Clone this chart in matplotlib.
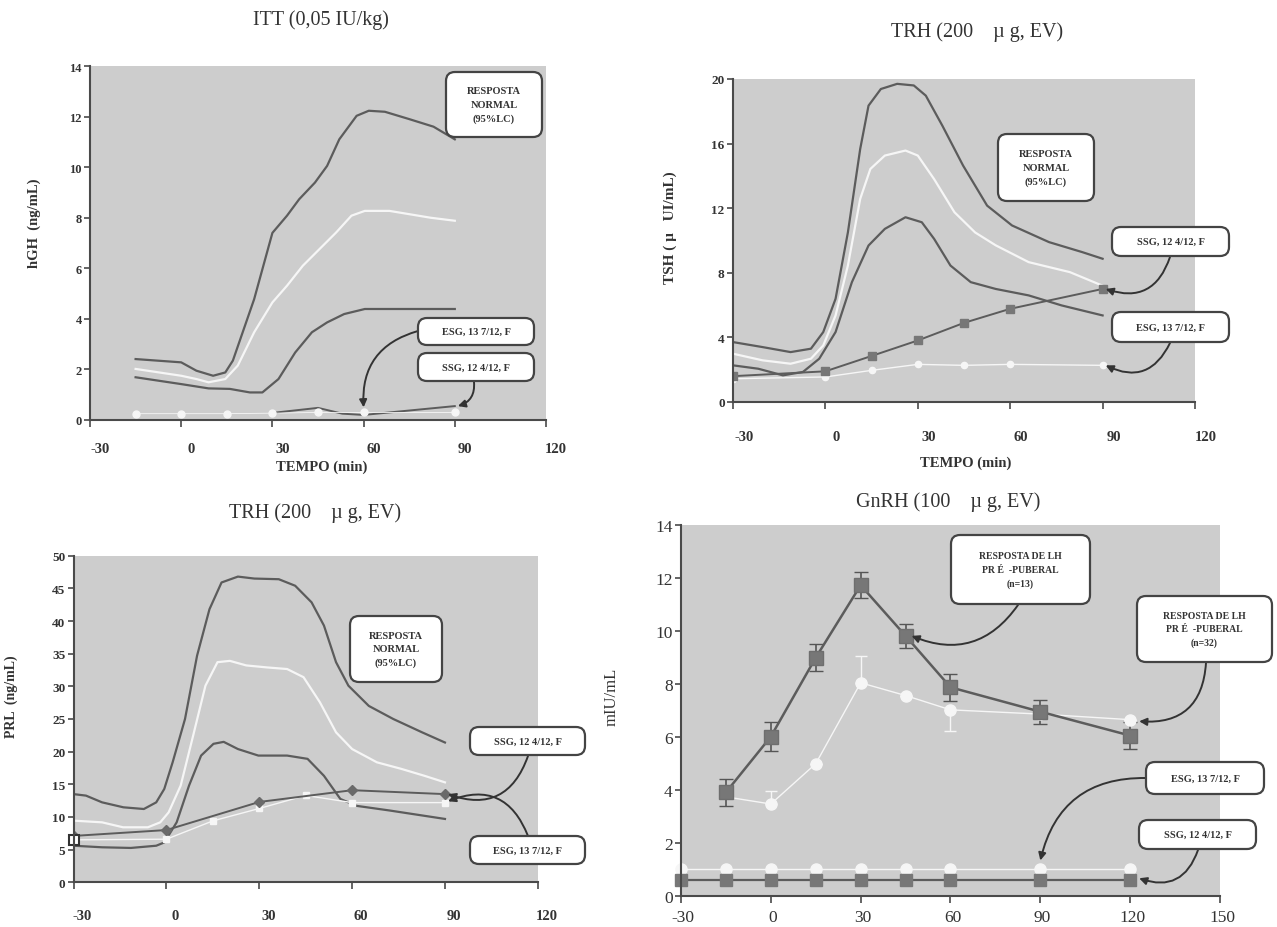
import matplotlib
matplotlib.use("Agg")
import matplotlib.pyplot as plt
from matplotlib.patches import FancyBboxPatch
from matplotlib.transforms import ScaledTranslation

plt.rcParams['font.family'] = ['Liberation Serif', 'DejaVu Serif']

W, H = 1277, 928
BG = '#cdcdcd'
DARK = '#5c5c5c'
WHITE = '#f6f6f6'
INK = '#333333'

# ---- ITT / hGH ----
p1_t_hi = [-15, 0, 5, 10.5, 14.5, 17, 24, 30, 34.8, 38.8, 44, 48, 52, 57.7, 61.7, 67, 75, 83, 90]
p1_hi = [2.41, 2.28, 1.95, 1.75, 1.88, 2.35, 4.78, 7.4, 8.08, 8.73, 9.39, 10.05, 11.1, 12.03, 12.23, 12.19, 11.9, 11.6, 11.1]
p1_t_mid = [-15, 0, 5, 9, 14.5, 18.6, 24, 30, 34.8, 40, 45.5, 51, 56, 60.4, 68.5, 75, 82, 90]
p1_mid = [2.02, 1.75, 1.62, 1.49, 1.62, 2.15, 3.47, 4.65, 5.31, 6.1, 6.76, 7.42, 8.08, 8.27, 8.27, 8.14, 8.0, 7.88]
p1_t_lo = [-15, 0, 9, 16, 22.6, 26.7, 32, 37.5, 43, 48, 53.6, 60.4, 75, 90]
p1_lo = [1.69, 1.42, 1.25, 1.23, 1.09, 1.09, 1.62, 2.67, 3.47, 3.86, 4.19, 4.39, 4.39, 4.39]
p1_t_esg = [-15, 0, 15, 30, 45, 60, 90]
p1_esg = [0.25, 0.25, 0.25, 0.27, 0.3, 0.3, 0.3]
p1_t_ssg = [30, 45, 53, 60, 90]
p1_ssg = [0.28, 0.48, 0.25, 0.2, 0.55]

# ---- TRH / TSH ----
p2_t_hi = [-30, -20.4, -11.3, -4.7, -0.7, 3.3, 7.3, 11.3, 14, 18, 23.3, 28.7, 32.6, 38, 44.7, 52.5, 60.6, 72.6, 83.4, 90]
p2_hi = [3.71, 3.40, 3.09, 3.3, 4.33, 6.39, 10.5, 15.67, 18.35, 19.38, 19.7, 19.6, 18.97, 17.1, 14.64, 12.16, 10.93, 9.9, 9.28, 8.87]
p2_t_mid = [-30, -20.4, -11.3, -4.7, -0.7, 3.3, 7.3, 11.3, 14.6, 19.3, 26, 30, 35.3, 41.9, 48.6, 55.3, 66, 79.4, 90]
p2_mid = [2.99, 2.58, 2.37, 2.68, 3.5, 5.36, 8.45, 12.58, 14.43, 15.26, 15.57, 15.26, 13.8, 11.75, 10.5, 9.7, 8.66, 8.04, 7.2]
p2_t_lo = [-30, -21.8, -13.8, -7.3, -2, 3.3, 8.6, 14, 19.3, 26, 31.3, 35.3, 40.6, 47.2, 55.3, 66, 76.7, 90]
p2_lo = [2.27, 2.06, 1.65, 1.86, 2.68, 4.33, 7.42, 9.69, 10.72, 11.44, 11.13, 10.1, 8.45, 7.42, 7.0, 6.6, 5.98, 5.36]
p2_t_pat = [-30, 0, 15, 30, 45, 60, 90]
p2_ssg = [1.6, 1.9, 2.85, 3.81, 4.9, 5.77, 7.0]
p2_esg = [1.44, 1.55, 1.96, 2.33, 2.27, 2.33, 2.27]

# ---- TRH / PRL ----
p3_t_hi = [-30, -26, -20.8, -13.9, -7.3, -3.3, -0.7, 2, 6, 9.9, 13.9, 17.8, 23.1, 28.4, 36.3, 41.6, 46.9, 50.9, 54.8, 58.8, 65.4, 73.3, 82.6, 90]
p3_hi = [13.5, 13.27, 12.24, 11.48, 11.22, 12.24, 14.29, 18.37, 25, 34.7, 41.8, 45.9, 46.8, 46.5, 46.4, 45.4, 42.86, 39.3, 33.7, 30.1, 27.0, 25, 22.96, 21.4]
p3_t_mid = [-30, -20.8, -14, -6, -2, 0.7, 4.6, 8.6, 12.6, 16.5, 20.5, 25.8, 32.4, 39, 44.3, 49.6, 54.8, 60, 68, 76, 83.4, 90]
p3_mid = [9.44, 9.18, 8.42, 8.42, 9.18, 10.7, 14.8, 22.4, 30.1, 33.7, 33.9, 33.2, 32.9, 32.65, 31.4, 27.55, 22.96, 20.4, 18.37, 17.35, 16.3, 15.3]
p3_t_lo = [-30, -20.8, -11.5, -3.3, -0.7, 3.3, 7.3, 11.2, 15.2, 18.5, 23.1, 29.7, 39, 45.6, 50.9, 56.2, 61.5, 72, 90]
p3_lo = [5.6, 5.36, 5.26, 5.6, 6.1, 9.18, 14.8, 19.4, 21.2, 21.5, 20.4, 19.4, 19.4, 18.9, 16.3, 12.76, 11.7, 11.0, 9.7]
p3_t_ssg = [-30, 0, 30, 60, 90]
p3_ssg = [7.1, 8.0, 12.3, 14.1, 13.5]
p3_t_esg = [-30, 0, 15, 30, 45, 60, 90]
p3_esg = [6.5, 6.6, 9.4, 11.3, 13.3, 12.2, 12.2]

# ---- GnRH / LH ----
p4_t = [-15, 0, 15, 30, 45, 60, 90, 120]
p4_n13 = [3.92, 6.02, 9.0, 11.73, 9.82, 7.88, 6.96, 6.06]
p4_n13_err = [0.5, 0.55, 0.5, 0.5, 0.45, 0.5, 0.45, 0.5]
p4_n32 = [3.75, 3.48, 5.0, 8.05, 7.57, 7.03, 6.87, 6.66]
p4_n32_up = [0, 0.5, 0, 1.0, 0, 0, 0, 0]
p4_n32_dn = [0, 0, 0, 0, 0, 0.8, 0, 0]
p4_t_pat = [-30, -15, 0, 15, 30, 45, 60, 90, 120]
p4_esg = [1.03, 1.03, 1.03, 1.03, 1.03, 1.03, 1.03, 1.03, 1.03]
p4_ssg = [0.62, 0.62, 0.62, 0.62, 0.62, 0.62, 0.62, 0.62, 0.62]

fig = plt.figure(figsize=(W / 100, H / 100), dpi=100)
fig.patch.set_facecolor('white')


def px_axes(l, t, r, b):
    return fig.add_axes([l / W, 1 - b / H, (r - l) / W, (b - t) / H])


def style(ax, xt, yt, xlim, ylim, bold, xs, ys, xpad, dx):
    ax.set_facecolor(BG)
    for s in ['top', 'right']:
        ax.spines[s].set_visible(False)
    for s in ['left', 'bottom']:
        ax.spines[s].set_color('#4a4a4a')
        ax.spines[s].set_linewidth(1.5)
    ax.set_xlim(*xlim)
    ax.set_ylim(*ylim)
    ax.set_xticks(xt)
    ax.set_yticks(yt)
    w = 'bold' if bold else 'normal'
    ax.set_xticklabels([str(v) for v in xt], fontsize=xs, fontweight=w, color=INK)
    ax.set_yticklabels([str(v) for v in yt], fontsize=ys, fontweight=w, color=INK)
    ax.tick_params(axis='x', length=5, width=1.2, color='#4a4a4a', pad=xpad)
    ax.tick_params(axis='y', length=4, width=1.2, color='#4a4a4a', pad=2)
    off = ScaledTranslation(dx / 100, 0, fig.dpi_scale_trans)
    for lab in ax.get_xticklabels():
        lab.set_transform(lab.get_transform() + off)


def box(x0, y0, x1, y1, text, size=7.5):
    p = FancyBboxPatch((x0 / 100, (H - y1) / 100), (x1 - x0) / 100, (y1 - y0) / 100,
                       boxstyle='round,pad=0,rounding_size=0.09',
                       transform=fig.dpi_scale_trans, fc='white', ec='#444444', lw=1.6, zorder=5)
    fig.add_artist(p)
    fig.text((x0 + x1) / 200, (H - (y0 + y1) / 2) / 100, text, transform=fig.dpi_scale_trans,
             ha='center', va='center', fontsize=size, fontweight='bold', color=INK,
             linespacing=1.6, zorder=6)


def arrow(ax, sx, sy, x, y, rad):
    ax.annotate('', xy=(x, y), xycoords='data', xytext=(sx / 100, (H - sy) / 100),
                textcoords=fig.dpi_scale_trans, annotation_clip=False,
                arrowprops=dict(arrowstyle='-|>', color='#333333', lw=1.4,
                                connectionstyle='arc3,rad=%s' % rad,
                                shrinkA=0, shrinkB=0, mutation_scale=11))


# panel 1
ax1 = px_axes(90, 67, 546, 421)
style(ax1, [-30, 0, 30, 60, 90, 120], list(range(0, 15, 2)), (-30, 120), (0, 14), True, 10.5, 9, 11, 10)
ax1.plot(p1_t_hi, p1_hi, color=DARK, lw=1.6)
ax1.plot(p1_t_mid, p1_mid, color=WHITE, lw=1.6)
ax1.plot(p1_t_lo, p1_lo, color=DARK, lw=1.6)
ax1.plot(p1_t_ssg, p1_ssg, color=DARK, lw=1.4)
ax1.plot(p1_t_esg, p1_esg, color=WHITE, lw=0.6, marker='o', ms=5, mec=WHITE, mfc=WHITE)
ax1.set_ylabel('hGH  (ng/mL)', fontsize=10.5, fontweight='bold', color=INK)
ax1.yaxis.set_label_coords(-0.108, 0.559)
fig.text(321 / W, 1 - 20 / H, 'ITT (0,05 IU/kg)', ha='center', va='center', fontsize=14.5, color=INK)
fig.text(322 / W, 1 - 467 / H, 'TEMPO (min)', ha='center', va='center', fontsize=10.5, fontweight='bold', color=INK)
box(446, 73, 542, 138, 'RESPOSTA\nNORMAL\n(95%LC)')
box(418, 319, 534, 346, 'ESG, 13 7/12, F')
box(418, 354, 534, 382, 'SSG, 12 4/12, F')
arrow(ax1, 418, 332, 60, 0.5, 0.4)
arrow(ax1, 474, 383, 91, 0.55, -0.4)

# panel 2
ax2 = px_axes(733, 80, 1195, 403)
style(ax2, [-30, 0, 30, 60, 90, 120], list(range(0, 21, 4)), (-30, 120), (0, 20), True, 10.5, 9.5, 15, 11)
ax2.plot(p2_t_hi, p2_hi, color=DARK, lw=1.6)
ax2.plot(p2_t_mid, p2_mid, color=WHITE, lw=1.6)
ax2.plot(p2_t_lo, p2_lo, color=DARK, lw=1.6)
ax2.plot(p2_t_pat, p2_esg, color=WHITE, lw=1.0, marker='o', ms=4.5, mec=WHITE, mfc=WHITE)
ax2.plot(p2_t_pat, p2_ssg, color=DARK, lw=1.4, marker='s', ms=5.5, mec='#777777', mfc='#777777')
ax2.set_ylabel('TSH ( \u00b5   UI/mL)', fontsize=11, fontweight='bold', color=INK)
ax2.yaxis.set_label_coords(-0.122, 0.542)
fig.text(977 / W, 1 - 32 / H, 'TRH (200    \u00b5 g, EV)', ha='center', va='center', fontsize=14.5, color=INK)
fig.text(966 / W, 1 - 463 / H, 'TEMPO (min)', ha='center', va='center', fontsize=10.5, fontweight='bold', color=INK)
box(998, 135, 1094, 202, 'RESPOSTA\nNORMAL\n(95%LC)')
box(1112, 228, 1229, 257, 'SSG, 12 4/12, F')
box(1112, 313, 1229, 343, 'ESG, 13 7/12, F')
arrow(ax2, 1170, 258, 91, 7.0, -0.5)
arrow(ax2, 1170, 344, 91, 2.27, -0.5)

# panel 3
ax3 = px_axes(73.6, 556.7, 537.8, 883.3)
style(ax3, [-30, 0, 30, 60, 90, 120], list(range(0, 51, 5)), (-30, 120), (0, 50), True, 10.5, 9.5, 14, 9)
ax3.plot(p3_t_hi, p3_hi, color=DARK, lw=1.6)
ax3.plot(p3_t_mid, p3_mid, color=WHITE, lw=1.6)
ax3.plot(p3_t_lo, p3_lo, color=DARK, lw=1.6)
ax3.plot(p3_t_esg, p3_esg, color=WHITE, lw=1.0, marker='s', ms=5, mec=WHITE, mfc=WHITE)
ax3.plot(p3_t_ssg, p3_ssg, color=DARK, lw=1.4, marker='D', ms=5, mec='#6a6a6a', mfc='#6a6a6a')
ax3.plot(p3_t_esg[:1], p3_esg[:1], ls='none', marker='s', ms=7, mfc='white', mec='#333333', mew=1.5, clip_on=False)
ax3.set_ylabel('PRL  (ng/mL)', fontsize=10, fontweight='bold', color=INK)
ax3.yaxis.set_label_coords(-0.119, 0.570)
fig.text(315 / W, 1 - 513 / H, 'TRH (200    \u00b5 g, EV)', ha='center', va='center', fontsize=14.5, color=INK)
box(350, 617, 442, 683, 'RESPOSTA\nNORMAL\n(95%LC)')
box(470, 728, 585, 756, 'SSG, 12 4/12, F')
box(470, 837, 585, 865, 'ESG, 13 7/12, F')
arrow(ax3, 528, 757, 91, 13.5, -0.5)
arrow(ax3, 528, 837, 91, 12.4, 0.5)

# panel 4
ax4 = px_axes(681, 526, 1220, 897.3)
style(ax4, [-30, 0, 30, 60, 90, 120, 150], list(range(0, 15, 2)), (-30, 150), (0, 14), False, 12.5, 12.5, 4, 2)
ax4.errorbar(p4_t, p4_n32, yerr=[p4_n32_dn, p4_n32_up], color=WHITE, lw=1.0, marker='o', ms=8,
             mec=WHITE, mfc=WHITE, capsize=4, elinewidth=1.0, markevery=list(range(1, 8)))
ax4.errorbar(p4_t, p4_n13, yerr=p4_n13_err, color=DARK, lw=1.8, marker='s', ms=10,
             mec='#6e6e6e', mfc='#777777', capsize=5, elinewidth=1.2, ecolor='#555555')
ax4.plot(p4_t_pat, p4_esg, color=WHITE, lw=1.0, marker='o', ms=8, mec=WHITE, mfc=WHITE, clip_on=False)
ax4.plot(p4_t_pat, p4_ssg, color=DARK, lw=1.6, marker='s', ms=9, mec='#777777', mfc='#777777', clip_on=False)
ax4.set_ylabel('mIU/mL', fontsize=12, color=INK)
ax4.yaxis.set_label_coords(-0.114, 0.539)
fig.text(948 / W, 1 - 502 / H, 'GnRH (100    \u00b5 g, EV)', ha='center', va='center', fontsize=14.5, color=INK)
box(951, 536, 1090, 605, 'RESPOSTA DE LH\nPR \u00c9  -PUBERAL\n(n=13)', size=7)
box(1137, 597, 1272, 663, 'RESPOSTA DE LH\nPR \u00c9  -PUBERAL\n(n=32)', size=7)
box(1146, 763, 1264, 795, 'ESG, 13 7/12, F')
box(1139, 821, 1256, 850, 'SSG, 12 4/12, F')
arrow(ax4, 1018, 606, 47, 9.82, -0.4)
arrow(ax4, 1206, 664, 123, 6.6, -0.5)
arrow(ax4, 1146, 779, 90, 1.35, 0.4)
arrow(ax4, 1198, 851, 123, 0.68, -0.5)

fig.savefig('out.png', dpi=100, facecolor='white')
